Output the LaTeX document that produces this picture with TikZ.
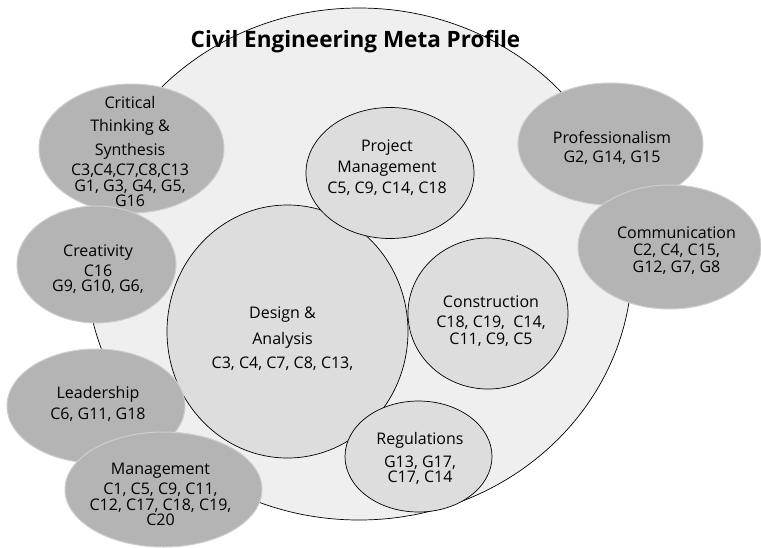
\documentclass[tikz,border=0pt]{standalone}
\usepackage{fontspec}
\setmainfont{Open Sans}
\usetikzlibrary{shapes.geometric}
\definecolor{bigfill}{RGB}{239,239,239}
\definecolor{areafill}{RGB}{221,221,221}
\definecolor{skillfill}{RGB}{180,180,180}
\definecolor{skillrim}{RGB}{206,206,206}
\tikzset{
  skill/.style={ellipse, fill=skillfill, draw=skillrim, line width=1pt, inner sep=0pt},
  area/.style={ellipse, fill=areafill, draw=black, line width=0.7pt, inner sep=0pt},
  txt/.style={font=\fontsize{16}{15}\selectfont, align=center, inner sep=0pt}
}
\begin{document}
\begin{tikzpicture}[x=1pt,y=-1pt]
	\useasboundingbox (0,0) rectangle (761,547);
	
	\node[ellipse, fill=bigfill, draw=black, line width=0.7pt, inner sep=0pt, minimum width=546, minimum height=512] (profile) at (359,264) {};
	\node[font=\fontsize{22.5}{26}\selectfont\bfseries, anchor=base] (title) at (355.5,47) {Civil Engineering Meta Profile};
	
	\node[area, minimum width=241, minimum height=253, label={[txt,xshift=-5,yshift=-7]center:{Design \&\\[9pt]Analysis\\[8pt]C3, C4, C7, C8, C13,}}] (design) at (287.5,331.5) {};
	\node[area, minimum width=168, minimum height=131, label={[txt,xshift=-3,yshift=5]center:{Project\\[4pt]Management\\[5pt]C5, C9, C14, C18}}] (project) at (390,173) {};
	\node[area, minimum width=160, minimum height=151, label={[txt,xshift=3,yshift=-7.5]center:{Construction\\[5pt]C18, C19,\ \ C14,\\[2pt]C11, C9, C5}}] (construct) at (488,313.5) {};
	\node[area, minimum width=147, minimum height=111, label={[txt,xshift=1.5,yshift=-2]center:{Regulations\\[6pt]G13, G17,\\C17, C14}}] (regul) at (418.5,456.5) {};
	
	\node[skill, minimum width=185, minimum height=129, label={[txt,xshift=-1.5,yshift=-3]center:{Critical\\[8pt]Thinking \&\\[7pt]Synthesis\\[3pt]C3,C4,C7,C8,C13\\[1pt]G1, G3, G4, G5,\\G16}}] (critical) at (131.5,148.5) {};
	\node[skill, minimum width=159, minimum height=117, label={[txt,xshift=1.5,yshift=-4.5]center:{Creativity\\[4pt]C16\\G9, G10, G6,}}] (creative) at (96.5,264.5) {};
	\node[skill, minimum width=178, minimum height=114, label={[txt,xshift=2,yshift=2]center:{Leadership\\[4pt]C6, G11, G18}}] (leader) at (96,406) {};
	\node[skill, minimum width=197, minimum height=115, label={[txt,xshift=-3,yshift=-5]center:{Management\\[4pt]C1, C5, C9, C11,\\[1pt]C12, C17, C18, C19,\\C20}}] (manage) at (163.5,489.5) {};
	\node[skill, minimum width=185, minimum height=122, label={[txt,xshift=1.5,yshift=-4]center:{Professionalism\\[4pt]G2, G14, G15}}] (profess) at (610.5,144) {};
	\node[skill, minimum width=183, minimum height=124, label={[txt,xshift=7,yshift=-3.5]center:{Communication\\[2pt]C2, C4, C15,\\[2pt]G12, G7, G8}}] (commun) at (669.5,247) {};
\end{tikzpicture}
\end{document}
